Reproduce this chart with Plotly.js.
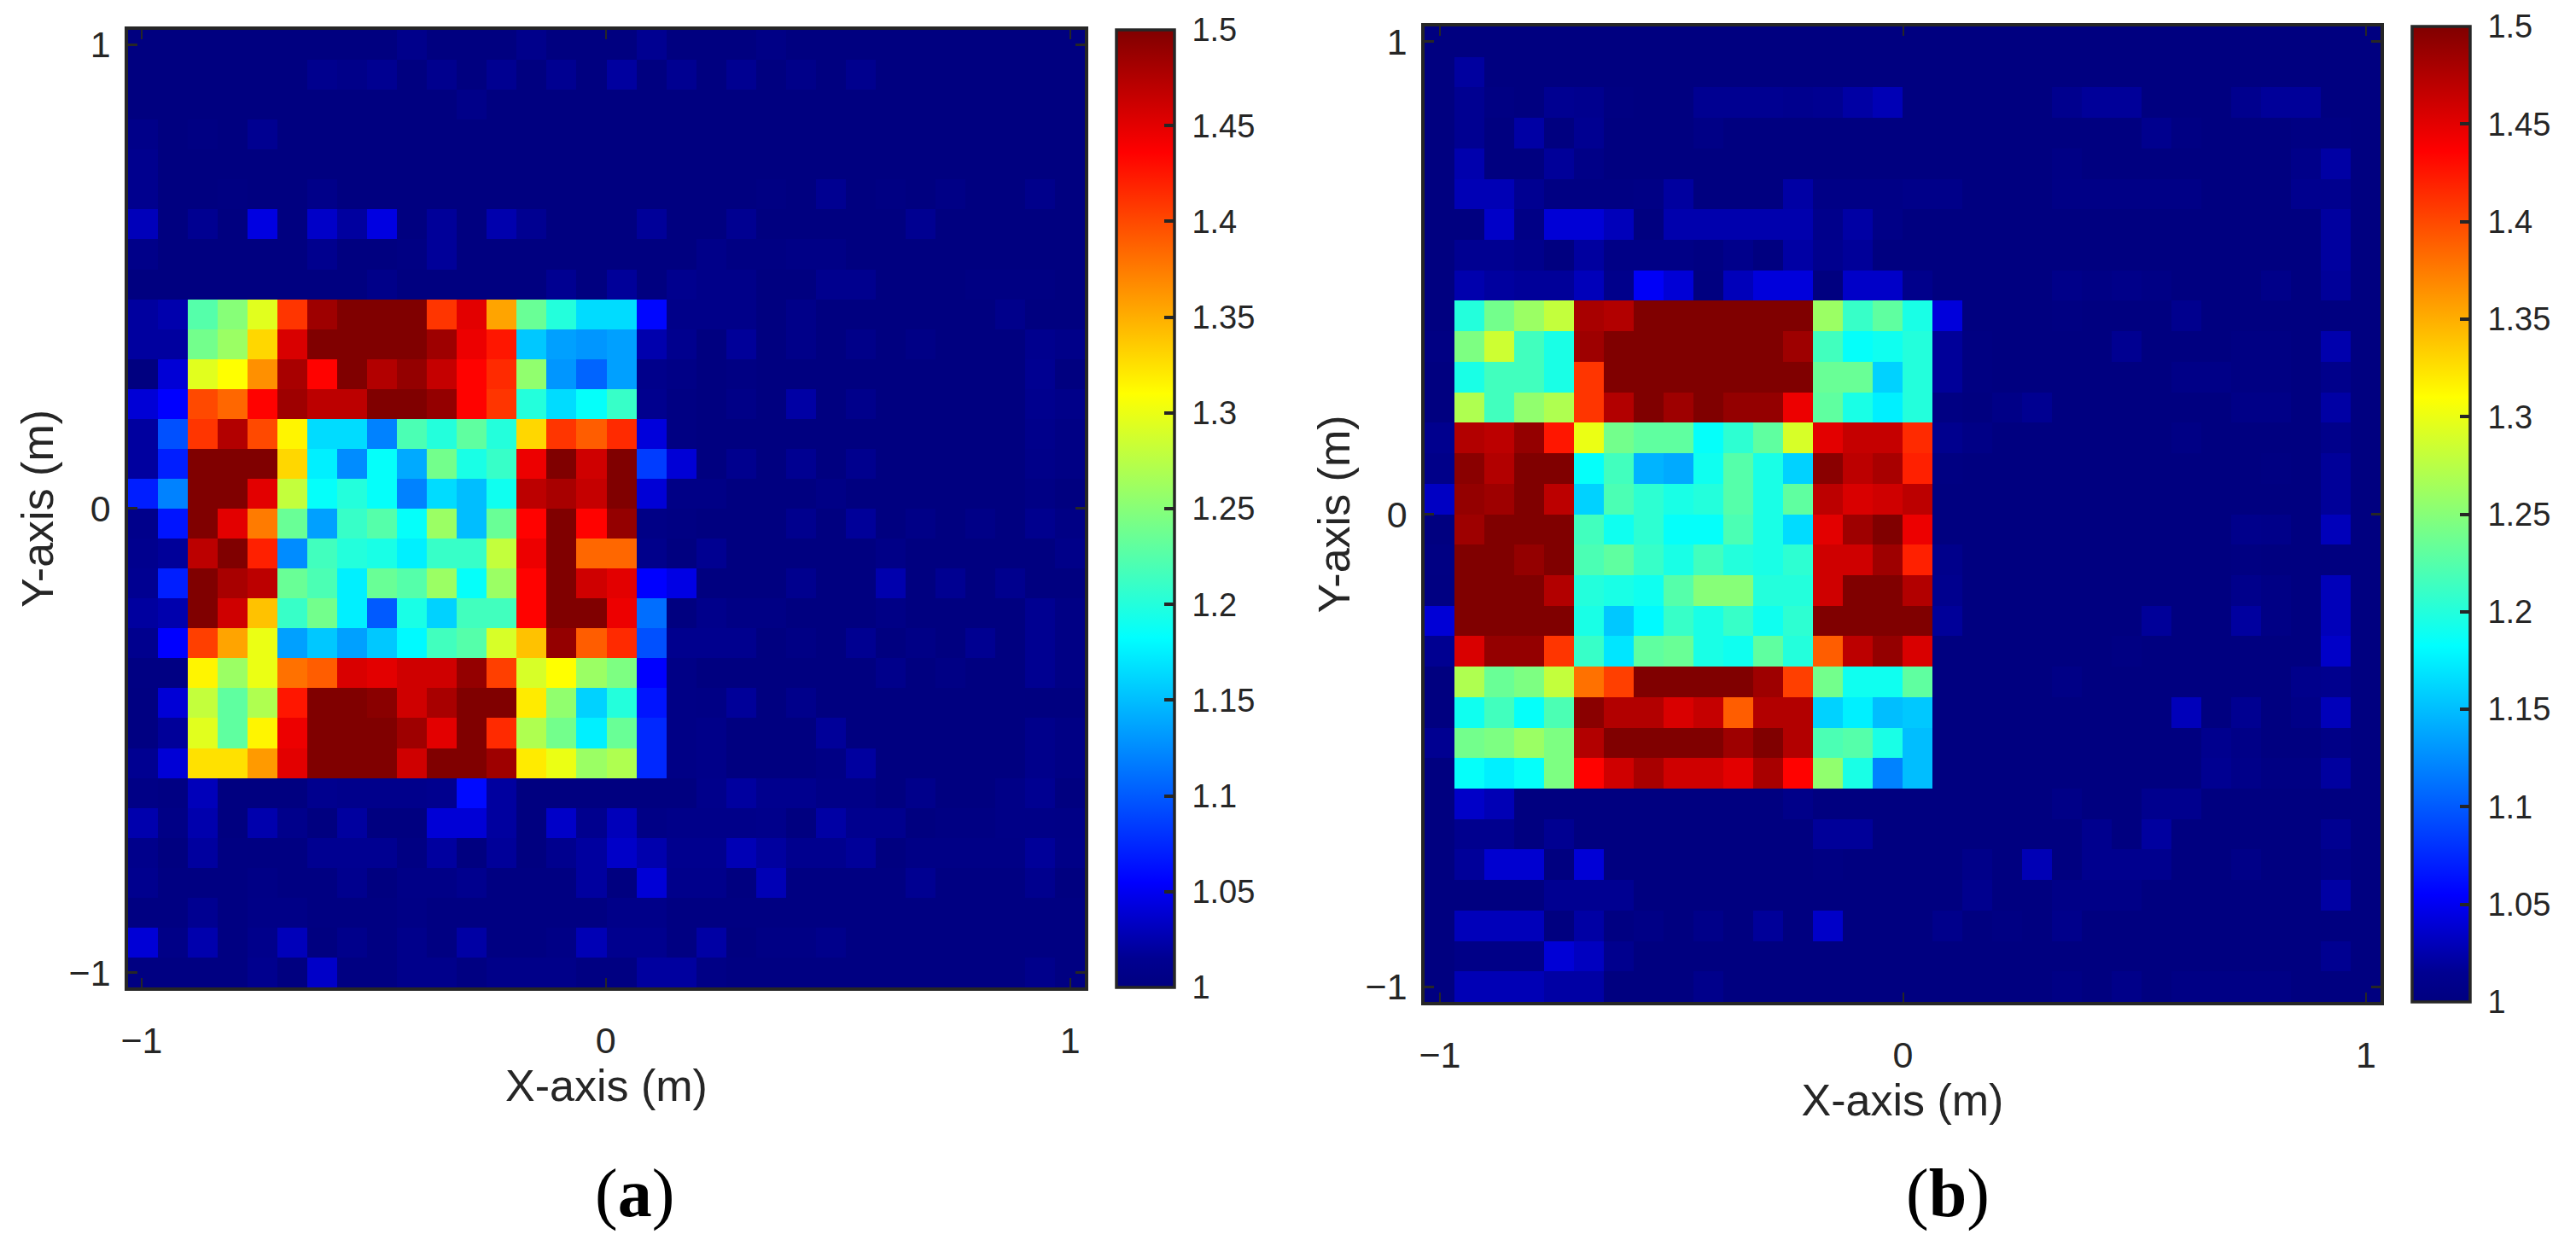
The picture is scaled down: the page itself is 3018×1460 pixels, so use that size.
<!DOCTYPE html>
<html>
<head>
<meta charset="utf-8">
<script src="https://cdn.plot.ly/plotly-3.0.1.min.js"></script>
<style>html,body{margin:0;padding:0;background:#fff;}#chart{width:3018px;height:1460px;}</style>
</head>
<body>
<div id="chart"></div>
<script>
// Panel (a): 32 x 32 cells, first row is the top of the picture
var zA = [
[1,1,1,1,1,1,1,1,1,1.01,1,1,1,1.01,1,1,1,1.015,1,1,1,1.005,1,1,1,1,1,1,1,1,1,1],
[1,1,1,1,1,1,1.012,1.008,1.015,1,1.012,1,1.015,1,1.015,1,1.02,1,1.015,1,1.015,1,1.008,1,1.012,1,1,1,1,1,1,1],
[1,1,1,1,1,1,1,1,1,1,1,1.008,1,1,1,1,1,1,1,1,1,1,1,1,1,1,1,1,1,1,1,1],
[1.008,1,1.003,1,1.015,1,1,1,1,1,1,1,1,1,1,1,1,1,1,1,1,1,1,1,1,1,1,1,1,1,1,1],
[1.012,1,1,1,1,1,1,1,1,1,1,1,1,1,1,1,1,1,1,1,1,1,1,1,1,1,1,1,1,1,1,1],
[1.012,1,1,1.002,1,1,1.008,1,1,1,1,1,1,1,1,1,1,1,1,1,1,1.003,1,1.015,1,1.003,1,1.005,1,1,1.01,1],
[1.03,1,1.015,1,1.044,1,1.035,1.02,1.044,1,1.018,1,1.025,1.015,1,1,1,1.018,1,1,1.015,1,1,1,1,1,1.015,1,1,1,1,1],
[1.008,1,1,1,1,1,1.012,1,1,1.003,1.018,1,1,1,1,1,1,1,1,1.008,1.003,1.003,1.005,1.005,1,1,1,1,1,1,1,1],
[1,1,1,1,1,1,1,1,1.008,1,1,1,1,1,1.015,1,1.018,1,1.012,1.008,1.008,1,1,1.012,1.012,1,1,1,1.003,1.003,1.003,1],
[1.02,1.025,1.225,1.25,1.295,1.41,1.485,1.5,1.5,1.5,1.41,1.45,1.355,1.235,1.2,1.165,1.165,1.058,1.008,1.008,1.008,1,1.008,1,1,1,1,1,1,1.01,1,1],
[1.02,1.02,1.24,1.26,1.33,1.455,1.5,1.5,1.5,1.5,1.485,1.445,1.425,1.155,1.135,1.13,1.135,1.025,1.012,1,1.018,1,1.008,1,1.008,1,1.005,1,1,1,1.012,1.008],
[1,1.04,1.295,1.31,1.365,1.48,1.435,1.5,1.475,1.49,1.465,1.435,1.415,1.255,1.13,1.105,1.135,1.01,1.005,1,1.003,1,1,1,1,1,1,1,1,1,1.015,1],
[1.04,1.055,1.4,1.385,1.435,1.485,1.47,1.47,1.5,1.5,1.49,1.435,1.41,1.2,1.165,1.185,1.21,1.012,1.003,1,1.006,1,1.022,1,1.01,1,1,1,1,1,1.012,1.008],
[1.02,1.095,1.41,1.475,1.4,1.315,1.165,1.165,1.12,1.22,1.2,1.23,1.2,1.33,1.41,1.39,1.415,1.042,1.003,1,1,1,1,1,1,1,1,1,1,1,1.01,1.004],
[1.02,1.07,1.5,1.5,1.5,1.33,1.175,1.125,1.185,1.14,1.24,1.195,1.21,1.445,1.5,1.46,1.5,1.085,1.04,1,1.012,1,1.015,1,1.012,1,1,1,1,1,1.008,1.004],
[1.07,1.12,1.5,1.5,1.45,1.28,1.185,1.2,1.185,1.12,1.165,1.15,1.19,1.47,1.48,1.465,1.5,1.04,1.005,1.005,1,1,1,1.005,1,1,1,1,1,1,1.004,1],
[1.01,1.065,1.5,1.45,1.375,1.235,1.135,1.21,1.225,1.185,1.26,1.15,1.235,1.435,1.5,1.435,1.49,1.005,1.003,1,1,1,1.012,1,1.018,1,1.006,1,1.006,1,1.012,1.004],
[1.012,1.018,1.47,1.5,1.42,1.125,1.215,1.2,1.195,1.175,1.21,1.21,1.28,1.445,1.5,1.385,1.385,1.01,1,1.015,1,1,1,1,1,1.006,1,1,1,1,1,1.008],
[1.015,1.07,1.5,1.48,1.47,1.235,1.22,1.175,1.235,1.225,1.26,1.185,1.26,1.435,1.5,1.46,1.45,1.055,1.045,1,1,1,1.012,1,1,1.025,1,1.015,1,1.012,1,1],
[1.02,1.025,1.5,1.46,1.34,1.21,1.24,1.175,1.1,1.195,1.16,1.215,1.215,1.435,1.5,1.5,1.445,1.11,1,1.01,1.004,1.004,1,1,1,1.005,1,1,1,1,1.015,1.004],
[1.012,1.055,1.405,1.355,1.3,1.135,1.155,1.135,1.155,1.18,1.215,1.225,1.29,1.34,1.49,1.39,1.415,1.095,1.012,1.012,1.012,1,1.004,1,1.015,1,1.005,1,1.015,1,1.015,1.004],
[1.003,1.003,1.315,1.26,1.3,1.38,1.39,1.455,1.45,1.46,1.46,1.49,1.405,1.29,1.31,1.26,1.245,1.055,1.005,1,1,1,1,1,1,1.01,1,1.004,1,1,1.015,1.004],
[1.002,1.04,1.28,1.23,1.27,1.425,1.5,1.5,1.495,1.46,1.48,1.5,1.5,1.32,1.255,1.16,1.2,1.065,1.005,1.004,1.018,1,1.01,1,1,1,1,1,1,1,1,1],
[1.002,1.018,1.295,1.23,1.315,1.445,1.5,1.5,1.5,1.485,1.45,1.5,1.415,1.27,1.24,1.175,1.235,1.075,1.005,1.008,1,1,1,1.018,1,1,1,1,1,1,1.01,1.004],
[1.015,1.04,1.325,1.325,1.36,1.45,1.5,1.5,1.5,1.46,1.5,1.5,1.485,1.32,1.3,1.26,1.27,1.075,1.005,1.008,1,1,1,1.004,1.02,1,1,1,1,1,1.01,1.004],
[1.005,1.003,1.03,1,1,1,1.012,1.01,1.01,1.01,1.012,1.06,1.02,1,1,1,1,1,1,1.01,1.02,1.012,1.012,1.006,1.006,1,1.01,1,1,1.006,1.015,1],
[1.025,1.005,1.025,1,1.025,1.01,1,1.02,1,1,1.04,1.04,1.02,1,1.035,1.012,1.03,1.005,1.008,1.008,1.008,1.01,1,1.022,1.012,1.012,1,1.003,1.003,1.006,1.006,1.005],
[1.01,1,1.02,1.002,1.002,1.002,1.015,1.015,1.015,1.003,1.02,1,1.018,1,1.012,1.02,1.035,1.025,1.012,1.012,1.028,1.02,1.012,1.012,1.018,1,1.005,1.005,1.005,1.005,1.018,1.006],
[1.012,1.002,1.002,1.002,1.005,1.002,1.002,1.012,1,1.006,1.006,1.012,1.002,1.002,1.002,1.02,1,1.04,1.01,1.01,1,1.028,1.002,1.002,1.002,1.002,1.015,1.002,1.002,1.002,1.012,1],
[1.002,1.002,1.015,1.002,1.006,1.006,1.002,1.002,1.002,1.005,1.002,1.002,1.002,1.002,1.002,1.002,1.008,1.008,1.002,1.002,1.002,1.002,1.002,1.002,1.002,1.002,1.002,1.002,1.002,1.002,1.002,1.002],
[1.04,1.006,1.025,1.002,1.01,1.03,1,1.01,1.002,1.01,1.002,1.022,1.002,1.002,1.005,1.028,1.012,1.012,1.002,1.022,1,1.004,1.004,1.01,1.002,1.002,1.002,1.002,1.002,1.002,1.002,1.002],
[1.002,1.002,1.002,1.002,1.012,1,1.035,1.002,1.002,1.01,1.01,1.002,1.008,1.008,1.008,1.002,1.002,1.02,1.02,1.005,1.002,1.002,1.002,1.002,1.002,1.002,1.002,1.002,1.002,1.002,1.01,1.002]
];

// Panel (b): 32 x 32 cells, first row is the top of the picture
var zB = [
[1,1,1,1,1,1,1,1,1,1,1,1,1,1,1,1,1,1,1,1,1,1,1,1,1,1,1,1,1,1,1,1],
[1,1.02,1,1,1,1,1,1,1,1,1,1,1,1,1,1,1,1,1,1,1,1,1,1,1,1,1,1,1,1,1,1],
[1,1.015,1.003,1,1.015,1.012,1.002,1,1,1.015,1.015,1.015,1.012,1.015,1.022,1.028,1,1,1,1,1,1.012,1.018,1.018,1,1,1,1.012,1.018,1.018,1,1],
[1,1.015,1,1.022,1,1.015,1,1,1,1.005,1,1,1,1,1,1,1,1,1,1,1,1,1,1,1.012,1.003,1,1,1,1.003,1.003,1],
[1,1.025,1,1,1.018,1.006,1,1,1,1,1,1,1,1,1,1,1,1,1,1,1,1.004,1,1,1,1,1,1,1,1.008,1.022,1],
[1,1.028,1.028,1.015,1.003,1.003,1.003,1.004,1.02,1,1,1,1.022,1.005,1.005,1.005,1.008,1.008,1,1,1,1.005,1.005,1.005,1.005,1.005,1,1,1,1.012,1.012,1],
[1,1,1.035,1.005,1.04,1.04,1.03,1,1.025,1.025,1.025,1.025,1.025,1.01,1.022,1.006,1,1,1,1,1,1,1,1,1,1,1,1,1,1,1.02,1],
[1,1.015,1.015,1.01,1,1.02,1.005,1.005,1.005,1.002,1.01,1,1.022,1.012,1.018,1,1,1,1,1,1,1,1,1,1,1,1,1,1,1,1.02,1],
[1,1.025,1.02,1.018,1.018,1.03,1.01,1.052,1.04,1,1.03,1.042,1.042,1,1.035,1.035,1.01,1,1,1,1,1.008,1.004,1.008,1.004,1,1,1,1.008,1,1.018,1],
[1,1.2,1.24,1.26,1.28,1.48,1.475,1.5,1.5,1.5,1.5,1.5,1.5,1.26,1.21,1.23,1.195,1.042,1,1,1,1.002,1,1,1,1.012,1,1,1,1,1,1],
[1.003,1.245,1.285,1.215,1.195,1.485,1.5,1.5,1.5,1.5,1.5,1.5,1.485,1.215,1.185,1.19,1.2,1.018,1.002,1,1,1,1,1.015,1,1,1,1.003,1.003,1,1.025,1],
[1,1.195,1.215,1.215,1.195,1.41,1.5,1.5,1.5,1.5,1.5,1.5,1.5,1.235,1.235,1.16,1.2,1.018,1.002,1,1,1,1,1,1,1.006,1.006,1.003,1.003,1,1.01,1],
[1,1.27,1.215,1.255,1.27,1.41,1.475,1.5,1.485,1.5,1.49,1.49,1.445,1.23,1.195,1.175,1.2,1.003,1,1.006,1.015,1,1,1,1,1,1,1.006,1.006,1,1.022,1],
[1.012,1.475,1.47,1.49,1.425,1.3,1.24,1.23,1.23,1.185,1.205,1.23,1.29,1.45,1.465,1.465,1.415,1.012,1.005,1,1,1,1,1,1,1.004,1,1,1,1,1.01,1],
[1.008,1.495,1.475,1.5,1.5,1.185,1.215,1.145,1.14,1.19,1.225,1.195,1.16,1.495,1.47,1.48,1.42,1.002,1,1,1,1,1,1,1,1,1,1,1.002,1,1.018,1],
[1.033,1.49,1.485,1.5,1.47,1.16,1.22,1.205,1.195,1.2,1.225,1.195,1.23,1.47,1.455,1.46,1.47,1,1,1,1,1,1,1,1,1,1,1,1,1,1.018,1],
[1,1.485,1.5,1.5,1.5,1.215,1.19,1.205,1.185,1.185,1.22,1.195,1.165,1.45,1.485,1.5,1.445,1,1,1,1,1,1,1,1,1,1,1.01,1.008,1,1.03,1],
[1.003,1.5,1.5,1.49,1.5,1.22,1.23,1.21,1.195,1.215,1.2,1.195,1.205,1.46,1.46,1.485,1.42,1.01,1,1,1,1,1,1,1,1,1,1.002,1,1,1,1],
[1.002,1.5,1.5,1.5,1.475,1.2,1.195,1.19,1.225,1.25,1.25,1.2,1.2,1.46,1.5,1.5,1.475,1.012,1,1,1,1,1,1,1,1,1,1.01,1.004,1,1.03,1],
[1.04,1.5,1.5,1.5,1.5,1.195,1.155,1.18,1.21,1.195,1.21,1.19,1.205,1.5,1.5,1.5,1.5,1.018,1,1,1,1,1,1,1.018,1,1,1.02,1.004,1,1.03,1],
[1.015,1.455,1.49,1.49,1.41,1.21,1.17,1.23,1.235,1.195,1.19,1.23,1.2,1.39,1.47,1.49,1.455,1,1,1,1,1,1,1.003,1,1,1,1,1,1,1.035,1],
[1,1.27,1.235,1.245,1.28,1.38,1.405,1.5,1.5,1.5,1.5,1.485,1.405,1.24,1.19,1.19,1.23,1,1,1,1,1.005,1,1,1,1,1,1,1,1.01,1.012,1],
[1,1.19,1.215,1.185,1.22,1.495,1.475,1.475,1.455,1.465,1.39,1.475,1.475,1.16,1.175,1.15,1.155,1,1,1,1,1,1,1,1,1.03,1,1.015,1,1.006,1.03,1],
[1.015,1.24,1.245,1.26,1.245,1.475,1.5,1.5,1.5,1.5,1.485,1.5,1.475,1.22,1.225,1.195,1.15,1,1,1,1,1,1,1,1,1,1.012,1.006,1,1,1.006,1],
[1,1.185,1.175,1.185,1.245,1.435,1.46,1.48,1.46,1.46,1.45,1.48,1.435,1.255,1.195,1.12,1.15,1,1,1,1,1,1,1,1,1,1.015,1.008,1.003,1.003,1.02,1],
[1,1.035,1.028,1,1,1,1,1,1,1,1,1,1.008,1,1,1,1,1,1,1,1,1.006,1,1,1.012,1.012,1,1,1,1,1,1],
[1,1.012,1.012,1,1.015,1,1,1,1,1,1,1,1,1.018,1.018,1,1,1,1,1,1,1,1.012,1,1.02,1,1,1,1,1,1.015,1],
[1,1.018,1.038,1.038,1,1.04,1,1,1,1,1,1,1,1.003,1,1,1,1,1.008,1,1.028,1,1.012,1.012,1.012,1,1,1.006,1,1,1.006,1],
[1,1,1,1,1.015,1.015,1.015,1,1,1,1,1,1,1,1,1,1,1,1.012,1,1,1.006,1.006,1.006,1,1,1,1,1,1,1.022,1],
[1,1.03,1.03,1.03,1,1.022,1.002,1.005,1,1.008,1,1.018,1,1.035,1,1,1,1.01,1,1.003,1,1.01,1,1,1,1,1,1,1,1,1,1],
[1,1.006,1.006,1.006,1.04,1.032,1.012,1,1,1,1,1,1,1,1,1,1,1,1,1,1,1,1,1,1,1,1,1,1,1,1.015,1],
[1,1.028,1.028,1.028,1.022,1.022,1,1,1,1.01,1,1,1,1,1,1,1,1,1,1,1,1.004,1,1.008,1,1.004,1.004,1.004,1.004,1,1,1]
];

var axisTickVals = [-1, 0, 1];
var axisTickText = ['\u22121', '0', '1'];
var colorbarTickVals = [1, 1.05, 1.1, 1.15, 1.2, 1.25, 1.3, 1.35, 1.4, 1.45, 1.5];
var colorbarTickText = ['1', '1.05', '1.1', '1.15', '1.2', '1.25', '1.3', '1.35', '1.4', '1.45', '1.5'];
var jetStops = [
  [0, 'rgb(0,0,128)'], [0.03, 'rgb(0,0,145)'], [0.11, 'rgb(0,0,255)'], [0.365, 'rgb(0,255,255)'],
  [0.62, 'rgb(255,255,0)'], [0.872, 'rgb(255,0,0)'], [1, 'rgb(128,0,0)']
];
var xTitle = 'X-axis (m)';
var yTitle = 'Y-axis (m)';
var captionA = '(<b>a</b>)';
var captionB = '(<b>b</b>)';

var W = 3018, H = 1460;
var INK = '#262626';
var SANS = '"Liberation Sans", Arial, sans-serif';

function px(v) { return v / W; }
function py(v) { return 1 - v / H; }

function colorbar(left, top, len) {
  return {
    x: px(left), xanchor: 'left', xpad: 0,
    y: py(top), yanchor: 'top', ypad: 0,
    lenmode: 'pixels', len: len,
    thicknessmode: 'pixels', thickness: 68,
    outlinewidth: 3.5, outlinecolor: INK,
    borderwidth: 0,
    tickmode: 'array',
    tickvals: colorbarTickVals,
    ticktext: colorbarTickText.map(function (t) { return '\u00a0' + t; }),
    ticks: 'inside', ticklen: 13, tickwidth: 3.5, tickcolor: INK,
    tickfont: {family: SANS, size: 38, color: INK}
  };
}

function heat(z, xr, yr, xa, ya, cb) {
  var dx = (xr[1] - xr[0]) / 32, dy = (yr[1] - yr[0]) / 32;
  return {
    type: 'heatmap', z: z, xaxis: xa, yaxis: ya,
    x0: xr[0] + dx / 2, dx: dx,
    y0: yr[1] - dy / 2, dy: -dy,
    zmin: 1, zmax: 1.5, zsmooth: false,
    colorscale: jetStops, colorbar: cb
  };
}

function xAxis(domain, range, anchor) {
  return {
    domain: domain, range: range, anchor: anchor, fixedrange: true,
    showgrid: false, zeroline: false,
    showline: true, mirror: 'allticks', linewidth: 3.5, linecolor: INK,
    ticks: 'inside', ticklen: 11, tickwidth: 2, tickcolor: INK,
    tickmode: 'array', tickvals: axisTickVals, ticktext: axisTickText,
    tickfont: {family: SANS, size: 43, color: INK},
    ticklabelstandoff: 22,
    title: {text: xTitle, font: {family: SANS, size: 52, color: INK}, standoff: 12}
  };
}
function yAxis(domain, range, anchor) {
  return {
    domain: domain, range: range, anchor: anchor, fixedrange: true,
    showgrid: false, zeroline: false,
    showline: true, mirror: 'allticks', linewidth: 3.5, linecolor: INK,
    ticks: 'inside', ticklen: 11, tickwidth: 3, tickcolor: INK,
    tickmode: 'array', tickvals: axisTickVals, ticktext: axisTickText,
    tickfont: {family: SANS, size: 43, color: INK},
    ticklabelstandoff: 8,
    title: {text: yTitle, font: {family: SANS, size: 52, color: INK}, standoff: 2}
  };
}

var rangeAx = [-1.0294, 1.032], rangeAy = [-1.032, 1.0313];
var rangeBx = [-1.0332, 1.0313], rangeBy = [-1.0325, 1.0325];

var data = [
  heat(zA, rangeAx, rangeAy, 'x', 'y', colorbar(1307.5, 35, 1122)),
  heat(zB, rangeBx, rangeBy, 'x2', 'y2', colorbar(2826, 31, 1143))
];

var layout = {
  width: W, height: H,
  margin: {l: 0, r: 0, t: 0, b: 0},
  paper_bgcolor: '#fff', plot_bgcolor: '#fff',
  xaxis: xAxis([px(150), px(1271)], rangeAx, 'y'),
  yaxis: yAxis([py(1157), py(35)], rangeAy, 'x'),
  xaxis2: xAxis([px(1669), px(2789)], rangeBx, 'y2'),
  yaxis2: yAxis([py(1174), py(31)], rangeBy, 'x2'),
  annotations: [
    {text: captionA, xref: 'paper', yref: 'paper', x: px(743), y: py(1398), showarrow: false,
     xanchor: 'center', yanchor: 'middle', font: {family: '"Liberation Serif", serif', size: 80, color: '#000'}},
    {text: captionB, xref: 'paper', yref: 'paper', x: px(2282), y: py(1398), showarrow: false,
     xanchor: 'center', yanchor: 'middle', font: {family: '"Liberation Serif", serif', size: 80, color: '#000'}}
  ]
};

Plotly.newPlot('chart', data, layout, {displayModeBar: false, responsive: false});
</script>
</body>
</html>
